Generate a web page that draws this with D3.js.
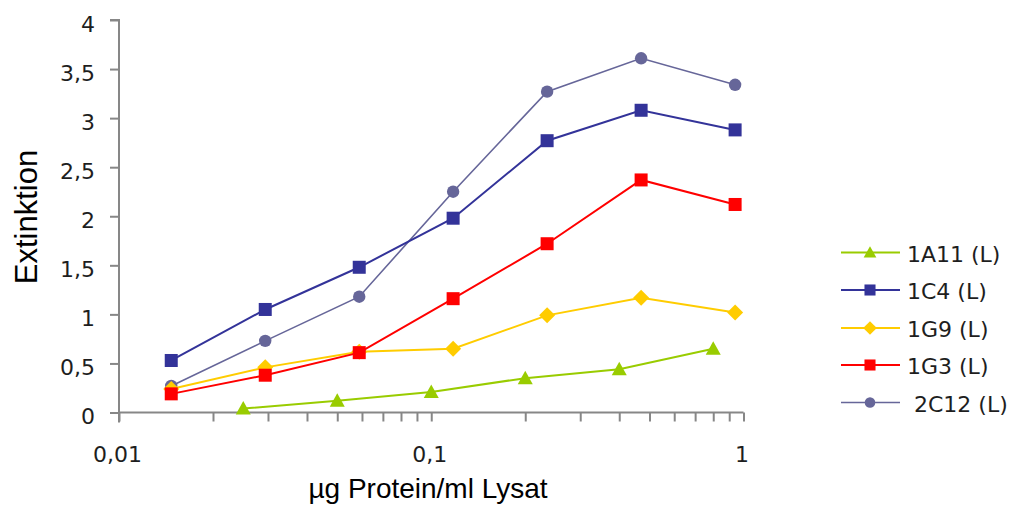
<!DOCTYPE html>
<html>
<head>
<meta charset="utf-8">
<script src="https://cdn.jsdelivr.net/npm/d3@7"></script>
<style>
  html, body { margin: 0; padding: 0; background: #fff; }
  svg { display: block; }
</style>
</head>
<body>
<svg id="chart" width="1011" height="506"></svg>
<script>
// Concentration series (µg Protein/ml Lysat)
const xHalving = [0.0147, 0.0294, 0.0588, 0.1175, 0.235, 0.47, 0.94];
const xDoubling = [0.025, 0.05, 0.1, 0.2, 0.4, 0.8];

// Extinction per antibody
const y1A11 = [0.04, 0.12, 0.21, 0.35, 0.44, 0.65];
const y1C4  = [0.53, 1.05, 1.48, 1.98, 2.77, 3.08, 2.88];
const y1G9  = [0.24, 0.46, 0.62, 0.65, 0.99, 1.17, 1.02];
const y1G3  = [0.19, 0.38, 0.61, 1.16, 1.72, 2.37, 2.12];
const y2C12 = [0.27, 0.73, 1.18, 2.25, 3.27, 3.61, 3.34];

const seriesNames = ["1A11 (L)", "1C4 (L)", "1G9 (L)", "1G3 (L)", " 2C12 (L)"];
const seriesColors = ["#99cc00", "#333399", "#ffcc00", "#ff0000", "#666699"];
const seriesMarkers = ["triangle", "square", "diamond", "square", "circle"];
const seriesX = [xDoubling, xHalving, xHalving, xHalving, xHalving];
const seriesY = [y1A11, y1C4, y1G9, y1G3, y2C12];
const lineWidths = [2, 2, 2, 2, 1.6];

const yTicks = [0, 0.5, 1, 1.5, 2, 2.5, 3, 3.5, 4];
const xTickLabels = [0.01, 0.1, 1];

const svg = d3.select("#chart");
const plotLeft = 119, plotRight = 743.5, plotTop = 20, plotBottom = 412.5;

const x = d3.scaleLog().domain([0.01, 1]).range([plotLeft, plotRight]);
const y = d3.scaleLinear().domain([0, 4]).range([plotBottom, plotTop]);

const axisColor = "#878787";
const labelColor = "#1e1e1e";
const labelFont = "DejaVu Sans";
const fmt = d => String(d).replace(".", ",");

// Y axis
const yAxis = svg.append("g").attr("transform", `translate(${plotLeft},0)`)
  .call(d3.axisLeft(y).tickValues(yTicks).tickSize(9).tickPadding(15).tickFormat(fmt));
yAxis.select(".domain").attr("stroke", axisColor).attr("stroke-width", 2)
  .attr("d", `M-9,${plotTop}H0V${plotBottom + 10}`);
yAxis.selectAll(".tick line").attr("stroke", axisColor).attr("stroke-width", 2);
yAxis.selectAll(".tick text").attr("font-family", labelFont).attr("font-size", 22)
  .attr("fill", labelColor).attr("dy", "0.5em");

// X axis with minor ticks on each decade
const xTickVals = [];
[0.01, 0.1].forEach(d => { for (let k = 1; k <= 9; k++) xTickVals.push(+(d * k).toFixed(3)); });
xTickVals.push(1);
const xAxis = svg.append("g").attr("transform", `translate(0,${plotBottom})`)
  .call(d3.axisBottom(x).tickValues(xTickVals).tickSize(9).tickPadding(25)
    .tickFormat(d => xTickLabels.includes(d) ? fmt(d) : ""));
xAxis.select(".domain").attr("stroke", axisColor).attr("stroke-width", 2)
  .attr("d", `M${plotLeft},0H${plotRight}`);
xAxis.selectAll(".tick line").attr("stroke", axisColor).attr("stroke-width", 2);
xAxis.selectAll(".tick text").attr("font-family", labelFont).attr("font-size", 22)
  .attr("fill", labelColor).attr("dx", -2);

// Axis titles
svg.append("text").attr("transform", "translate(37,217) rotate(-90)")
  .attr("text-anchor", "middle").attr("font-family", "Liberation Sans").attr("font-size", 31)
  .attr("fill", "#000").text("Extinktion");
svg.append("text").attr("x", 428).attr("y", 498)
  .attr("text-anchor", "middle").attr("font-family", "Liberation Sans").attr("font-size", 28)
  .attr("fill", "#000").text("µg Protein/ml Lysat");

// Marker shapes; s scales the size (legend symbols are a bit smaller)
function drawMarker(g, type, cx, cy, color, s = 1) {
  if (type === "square") {
    const h = 6.5 * s;
    g.append("rect").attr("x", cx - h).attr("y", cy - h).attr("width", 2 * h).attr("height", 2 * h).attr("fill", color);
  } else if (type === "diamond") {
    const h = 8 * s;
    g.append("path").attr("d", `M${cx},${cy - h}L${cx + h},${cy}L${cx},${cy + h}L${cx - h},${cy}Z`).attr("fill", color);
  } else if (type === "triangle") {
    const h = 7.5 * s;
    g.append("path").attr("d", `M${cx},${cy - h}L${cx + h},${cy + 0.8 * h}L${cx - h},${cy + 0.8 * h}Z`).attr("fill", color);
  } else {
    g.append("circle").attr("cx", cx).attr("cy", cy).attr("r", 6.2 * s).attr("fill", color);
  }
}

const line = d3.line().x(d => x(d[0])).y(d => y(d[1]));
const order = [4, 1, 2, 3, 0];
order.forEach(i => {
  const pts = seriesX[i].map((v, j) => [v, seriesY[i][j]]);
  const g = svg.append("g");
  g.append("path").attr("d", line(pts)).attr("fill", "none")
    .attr("stroke", seriesColors[i]).attr("stroke-width", lineWidths[i]);
  pts.forEach(p => drawMarker(g, seriesMarkers[i], x(p[0]), y(p[1]), seriesColors[i]));
});

// Legend
const legendRows = [252.5, 290, 328, 365, 402.5];
seriesNames.forEach((name, i) => {
  const g = svg.append("g");
  const ly = legendRows[i];
  g.append("line").attr("x1", 841).attr("x2", 900).attr("y1", ly).attr("y2", ly)
    .attr("stroke", seriesColors[i]).attr("stroke-width", lineWidths[i]);
  drawMarker(g, seriesMarkers[i], 870, ly, seriesColors[i], 0.85);
  g.append("text").attr("x", 907).attr("y", ly).attr("dy", "0.41em")
    .attr("font-family", labelFont).attr("font-size", 22).attr("fill", labelColor)
    .attr("xml:space", "preserve").style("white-space", "pre").text(name);
});
</script>
</body>
</html>
